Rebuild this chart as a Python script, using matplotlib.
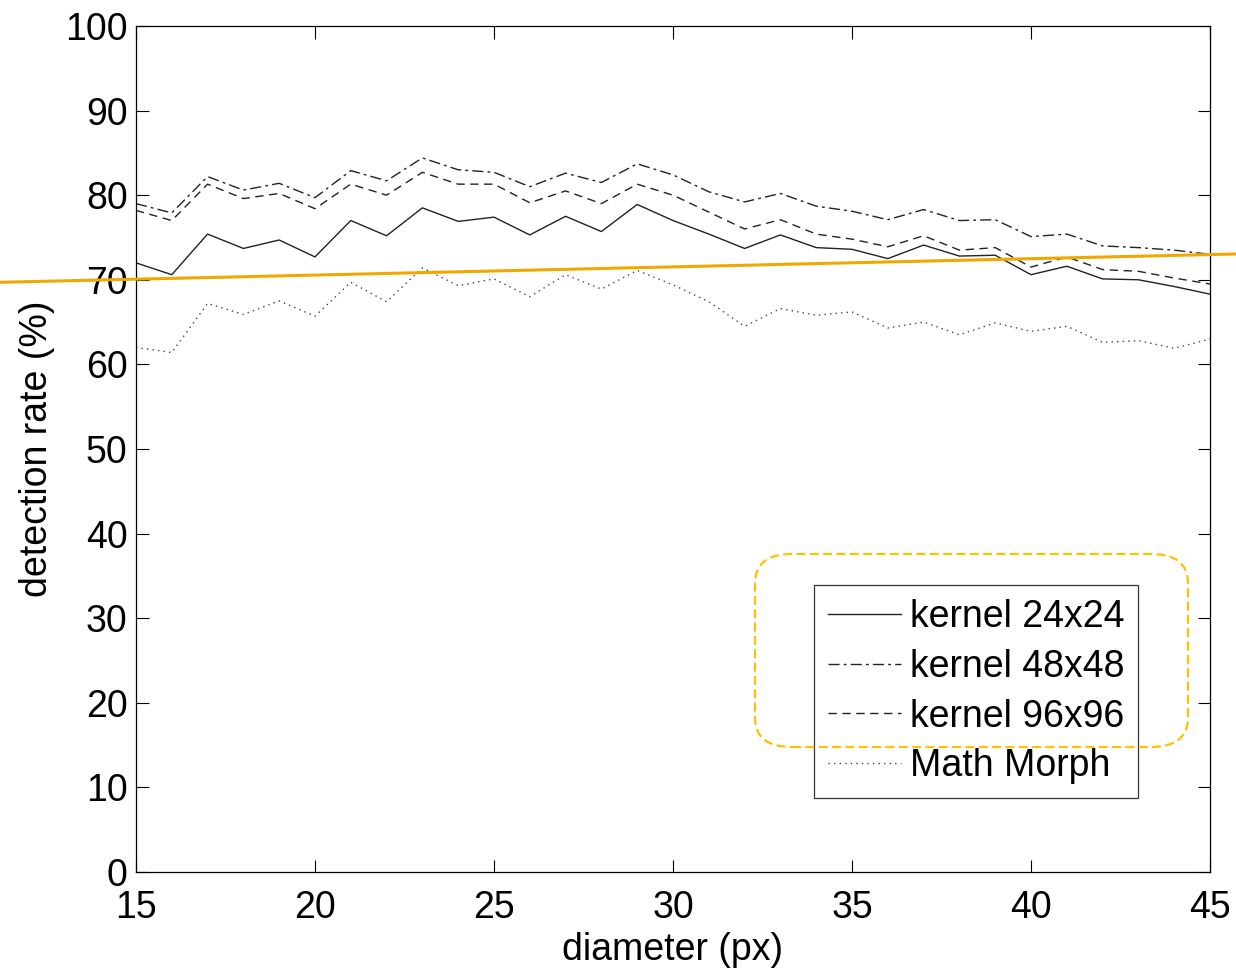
import numpy as np
import matplotlib
matplotlib.use("Agg")
import matplotlib.pyplot as plt
from matplotlib.patches import FancyBboxPatch

plt.rcParams["font.family"] = ["Liberation Sans", "DejaVu Sans"]

# --------------------------
# data
# --------------------------
diameter = list(range(15, 46))

kernel_24 = [72.0, 70.6, 75.4, 73.7, 74.7, 72.7, 77.0, 75.2, 78.5, 76.9, 77.4,
             75.3, 77.5, 75.7, 78.9, 77.0, 75.4, 73.7, 75.3, 73.8, 73.6,
             72.5, 74.1, 72.8, 72.9, 70.6, 71.6, 70.1, 70.0, 69.2, 68.3]
kernel_48 = [79.0, 77.9, 82.2, 80.6, 81.4, 79.7, 82.9, 81.7, 84.4, 83.0, 82.7,
             81.0, 82.6, 81.5, 83.7, 82.4, 80.4, 79.2, 80.2, 78.7, 78.1,
             77.1, 78.3, 77.0, 77.1, 75.1, 75.4, 74.0, 73.8, 73.5, 73.0]
kernel_96 = [78.2, 77.0, 81.3, 79.6, 80.2, 78.4, 81.3, 80.0, 82.7, 81.3, 81.3,
             79.1, 80.5, 79.0, 81.3, 80.0, 78.0, 76.0, 77.1, 75.4, 74.8,
             73.9, 75.2, 73.5, 73.8, 71.5, 72.7, 71.2, 71.0, 70.2, 69.5]
math_morph = [62.0, 61.4, 67.2, 65.9, 67.5, 65.7, 69.7, 67.4, 71.4, 69.3, 70.1,
              68.0, 70.6, 68.9, 71.1, 69.4, 67.4, 64.5, 66.6, 65.8, 66.2,
              64.3, 65.0, 63.5, 64.9, 63.9, 64.5, 62.6, 62.8, 61.9, 63.0]

labels = ["kernel 24x24", "kernel 48x48", "kernel 96x96", "Math Morph"]

# orange overlay line (endpoints in data units, runs past the axes)
trend_x = [11.2, 45.75]
trend_y = [69.7, 73.05]

# --------------------------
# plot
# --------------------------
fig = plt.figure(figsize=(12.36, 9.72), dpi=100)
ax = fig.add_axes([0.110, 0.1029, 0.869, 0.8704])

lw = 1.0
ax.plot(diameter, kernel_24, color="#222222", lw=lw, ls="-", label=labels[0])
ax.plot(diameter, kernel_48, color="#222222", lw=lw, ls=(0, (8, 3, 2, 3)), label=labels[1])
ax.plot(diameter, kernel_96, color="#222222", lw=lw, ls=(0, (6, 4)), label=labels[2])
ax.plot(diameter, math_morph, color="#444444", lw=lw, ls=(0, (1, 3)), label=labels[3])

ax.set_xlim(15, 45)
ax.set_ylim(0, 100)
ax.set_xticks(range(15, 46, 5))
ax.set_yticks(range(0, 101, 10))
ax.tick_params(direction="in", length=9, width=0.8, labelsize=27,
               top=True, right=True)
ax.tick_params(axis="x", pad=13)
ax.tick_params(axis="y", pad=6)
for s in ax.spines.values():
    s.set_linewidth(0.9)

ax.set_xlabel("diameter (px)", fontsize=27, labelpad=4)
ax.set_ylabel("detection rate (%)", fontsize=27, labelpad=7)

leg = ax.legend(loc="lower right", bbox_to_anchor=(0.933, 0.0875),
                borderaxespad=0, fontsize=27, frameon=True, fancybox=False,
                edgecolor="black", handlelength=1.95, handletextpad=0.25,
                labelspacing=0.37, borderpad=0.36)
leg.get_frame().set_linewidth(0.9)

ax.plot(trend_x, trend_y, color="#F0A800", lw=2.2, clip_on=False, zorder=5)

# orange dashed rounded box over the legend
W, H = 1236, 972
box = FancyBboxPatch((755 / W, 1 - 747 / H), (1188 - 755) / W, (747 - 554) / H,
                     boxstyle="round,pad=0,rounding_size=0.03",
                     transform=fig.transFigure, fill=False,
                     edgecolor="#FFC000", lw=1.6, ls=(0, (4, 2)), zorder=6)
fig.patches.append(box)

fig.savefig("out.png", dpi=100)
